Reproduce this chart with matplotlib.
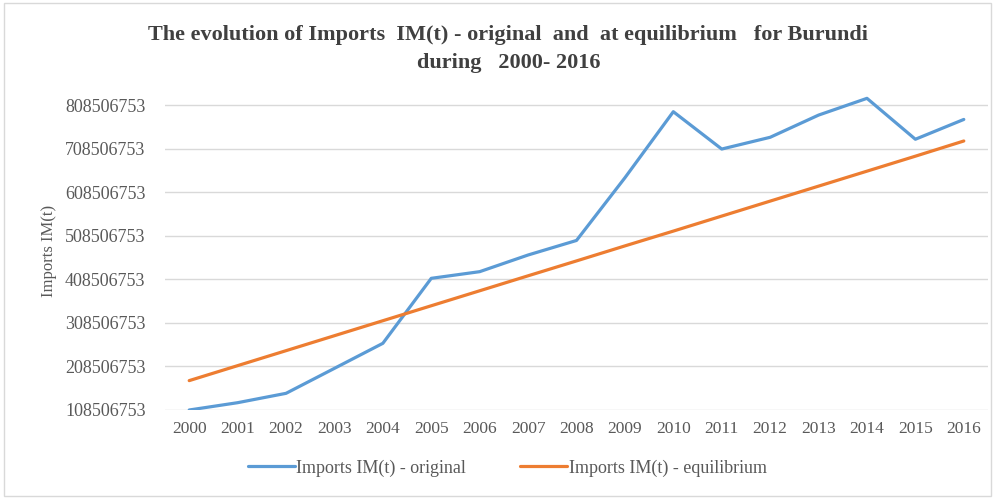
import matplotlib
matplotlib.use("Agg")
import matplotlib.pyplot as plt
from matplotlib.patches import Rectangle

years = [str(y) for y in range(2000, 2017)]
im_original = [108.5e6, 125.3e6, 146.8e6, 204.2e6, 261.7e6, 411.0e6, 426.3e6,
               464.6e6, 498.0e6, 642.0e6, 793.8e6, 708.0e6, 735.0e6, 786.0e6,
               824.5e6, 730.5e6, 776.0e6]
im_equilibrium = [176.0e6, 210.4e6, 244.8e6, 279.2e6, 313.6e6, 348.0e6, 382.4e6,
                  416.8e6, 451.0e6, 485.5e6, 519.5e6, 554.0e6, 588.4e6, 622.8e6,
                  657.2e6, 691.6e6, 726.5e6]
y_ticks = [108506753 + 100000000 * k for k in range(8)]

SERIF = ["Liberation Serif", "DejaVu Serif"]
GREY = "#595959"

fig = plt.figure(figsize=(9.95, 4.99), dpi=100)
fig.patches.append(Rectangle((0.004, 0.006), 0.992, 0.988, transform=fig.transFigure,
                             fill=False, edgecolor="#D9D9D9", linewidth=1.0))
ax = fig.add_axes([165 / 995, (499 - 410) / 499, 823 / 995, (410 - 92) / 499])

x = list(range(len(years)))
ax.plot(x, im_original, color="#5B9BD5", lw=2.3, label="Imports IM(t) - original",
        solid_capstyle="round", solid_joinstyle="round")
ax.plot(x, im_equilibrium, color="#ED7D31", lw=2.3, label="Imports IM(t) - equilibrium",
        solid_capstyle="round")

ax.set_xlim(-0.5, len(years) - 0.5)
ax.set_ylim(y_ticks[0], y_ticks[0] + (y_ticks[-1] - y_ticks[0]) * (410 - 92) / (410 - 105.3))
ax.set_yticks(y_ticks)
ax.set_yticklabels([str(v) for v in y_ticks], family=SERIF, fontsize=13, color=GREY)
ax.set_xticks(x)
ax.set_xticklabels(years, family=SERIF, fontsize=12.5, color=GREY)
ax.tick_params(length=0, pad=8)
ax.tick_params(axis="y", pad=14)
ax.grid(axis="y", color="#D9D9D9", lw=1.0)
ax.set_axisbelow(True)
for s in ax.spines.values():
    s.set_visible(False)

ax.set_ylabel("Imports IM(t)", family=SERIF, fontsize=12, color=GREY, labelpad=6)

fig.text(0.511, 0.930, "The evolution of Imports  IM(t) - original  and  at equilibrium   for Burundi",
         ha="center", va="center", family=SERIF, fontsize=16, fontweight="bold", color="#404040")
fig.text(0.511, 0.873, "during   2000- 2016", ha="center", va="center", family=SERIF,
         fontsize=16, fontweight="bold", color="#404040")

fig.legend(loc="center", bbox_to_anchor=(0.51, 0.062), ncol=2, frameon=False,
           prop={"family": SERIF, "size": 13}, labelcolor=GREY, handlelength=2.6,
           handletextpad=0.1, columnspacing=3.0)

fig.savefig("out.png", dpi=100)
